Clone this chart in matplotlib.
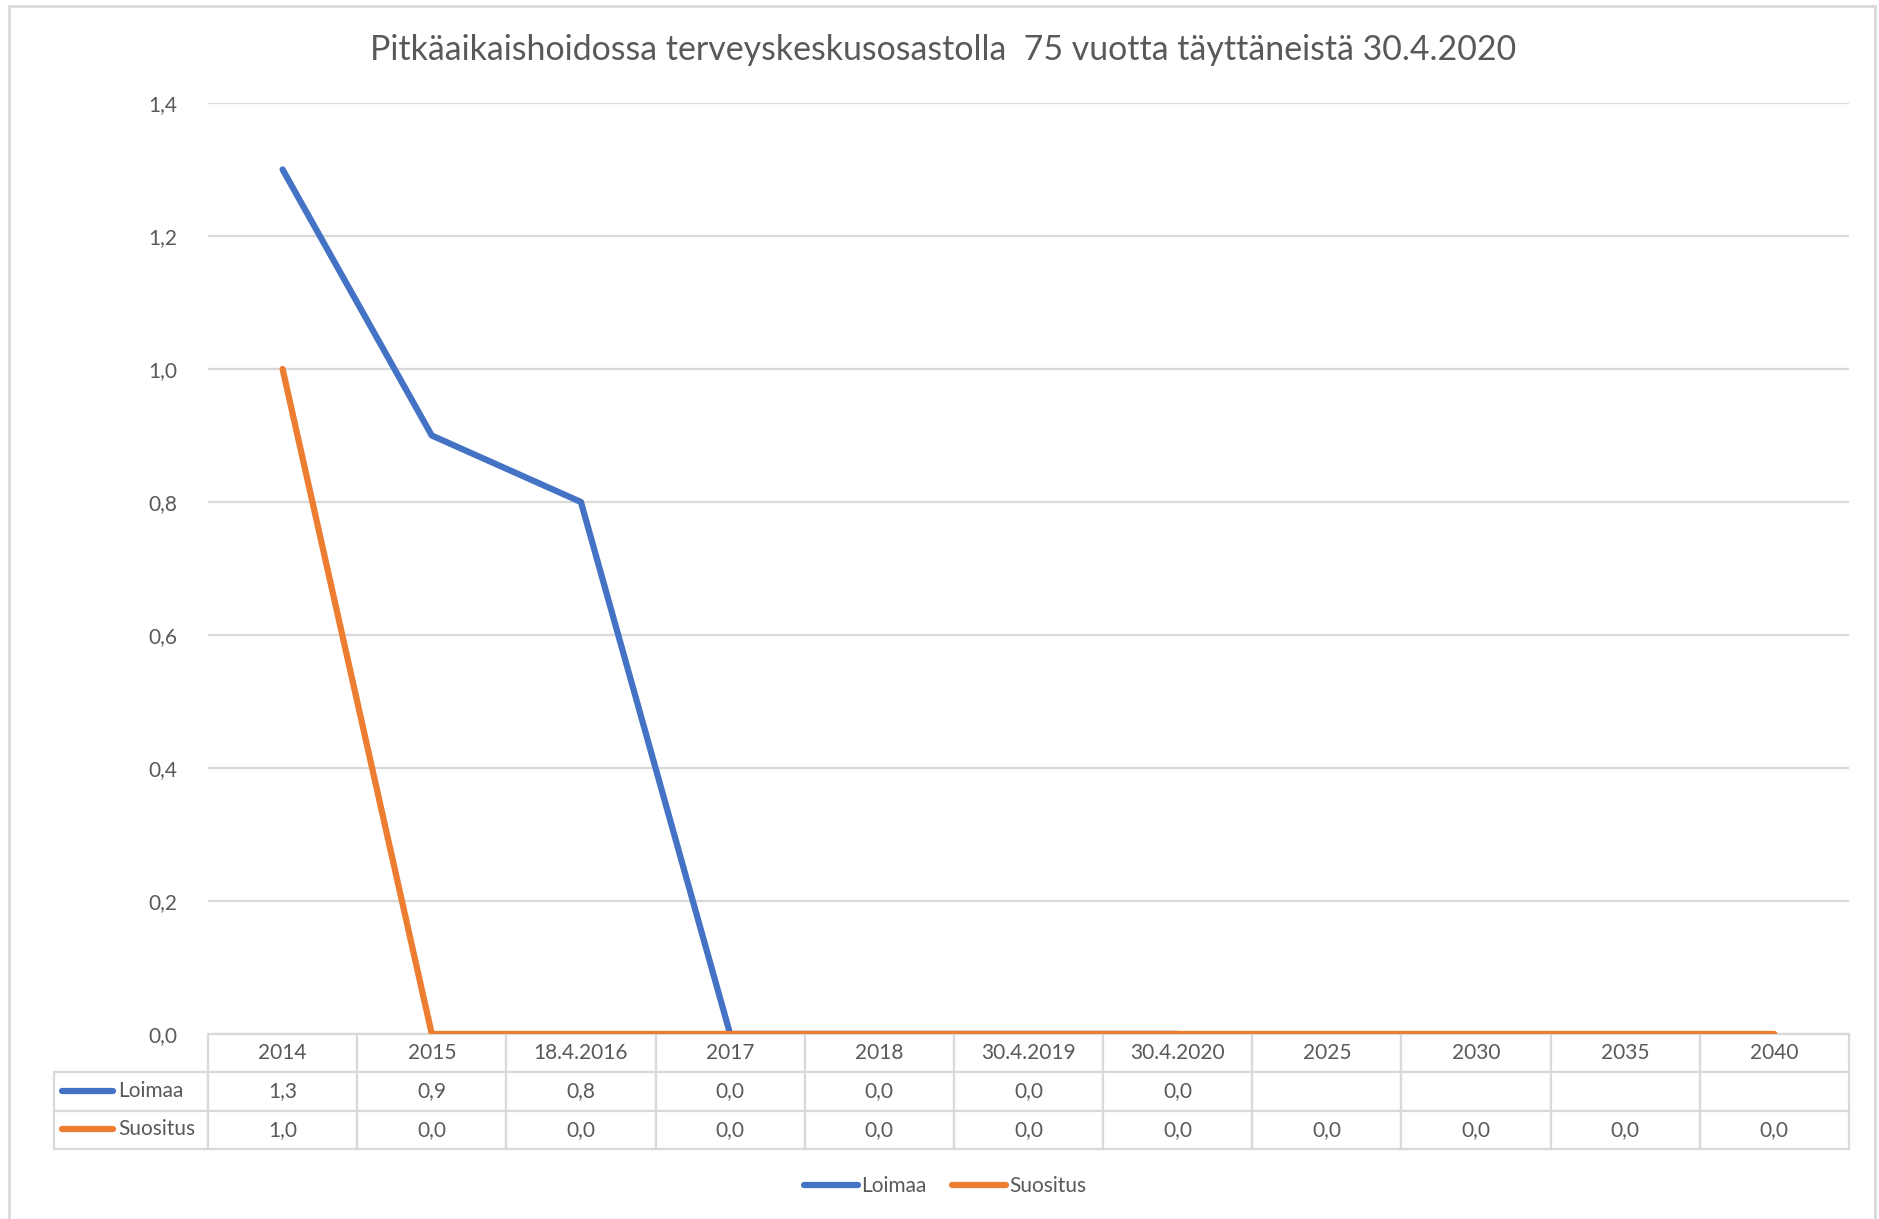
import numpy as np
import matplotlib
matplotlib.use("Agg")
import matplotlib.pyplot as plt
from matplotlib.patches import Rectangle

# data
categories = ["2014", "2015", "18.4.2016", "2017", "2018", "30.4.2019",
              "30.4.2020", "2025", "2030", "2035", "2040"]
loimaa = [1.3, 0.9, 0.8, 0.0, 0.0, 0.0, 0.0, np.nan, np.nan, np.nan, np.nan]
suositus = [1.0, 0.0, 0.0, 0.0, 0.0, 0.0, 0.0, 0.0, 0.0, 0.0, 0.0]
series_names = ["Loimaa", "Suositus"]
colors = ["#4472C4", "#ED7D31"]
title = "Pitkäaikaishoidossa terveyskeskusosastolla  75 vuotta täyttäneistä 30.4.2020"

plt.rcParams['font.family'] = ['Lato', 'DejaVu Sans']
txt = "#595959"
grid = "#D9D9D9"

fig = plt.figure(figsize=(18.79, 12.19), dpi=100)
ax = fig.add_axes([0.1107, 0.1518, 0.8733, 0.7637])

x = np.arange(len(categories))
for vals, name, c in zip([loimaa, suositus], series_names, colors):
    ax.plot(x, vals, color=c, lw=4.5, solid_capstyle='round',
            solid_joinstyle='round', label=name)

ax.set_xlim(-0.5, len(categories) - 0.5)
ax.set_ylim(0, 1.4)
yt = np.arange(0, 1.41, 0.2)
ax.set_yticks(yt)
ax.set_yticklabels([f"{v:.1f}".replace('.', ',') for v in yt])
ax.tick_params(axis='y', length=0, labelsize=15, labelcolor=txt, pad=22)
ax.set_xticks([])
ax.grid(axis='y', color=grid, lw=1.6)
ax.set_axisbelow(True)
for s in ax.spines.values():
    s.set_visible(False)

# data table under the axis
def fmt(v):
    return "" if np.isnan(v) else f"{v:.1f}".replace('.', ',')

cell_text = [[""] + categories,
             [""] + [fmt(v) for v in loimaa],
             [""] + [fmt(v) for v in suositus]]
lab_w = 154
col_w = 1641 / len(categories)
widths = [lab_w] + [col_w] * len(categories)
tbl = ax.table(cellText=cell_text, colWidths=widths, cellLoc='center',
               bbox=[-lab_w / 1641, -0.1235, 1 + lab_w / 1641, 0.1235])
tbl.auto_set_font_size(False)
tbl.set_fontsize(15)
for (r, c), cell in tbl.get_celld().items():
    cell.set_edgecolor(grid)
    cell.set_linewidth(1.6)
    cell.get_text().set_color(txt)
    if r == 0 and c == 0:
        cell.set_visible(False)

# series keys in the table
row_y = [-0.0612, -0.1026]
for name, c, yy in zip(series_names, colors, row_y):
    ax.plot([-0.089, -0.058], [yy, yy], transform=ax.transAxes, color=c,
            lw=4.5, solid_capstyle='round', clip_on=False)
    ax.text(-0.0545, yy, name, transform=ax.transAxes, ha='left',
            va='center', fontsize=15, color=txt)

ax.legend(loc='center', bbox_to_anchor=(0.503, 0.027),
          bbox_transform=fig.transFigure, ncol=2, frameon=False,
          fontsize=15, handlelength=2.6, handletextpad=0.15,
          columnspacing=1.2, labelcolor=txt)

fig.text(0.502, 0.959, title, ha='center', va='center', fontsize=24.4,
         color=txt)

fig.patches.append(Rectangle((0.005, -0.01), 0.993, 1.005,
                             transform=fig.transFigure, fill=False,
                             edgecolor=grid, lw=2))

fig.savefig("out.png", dpi=100)
